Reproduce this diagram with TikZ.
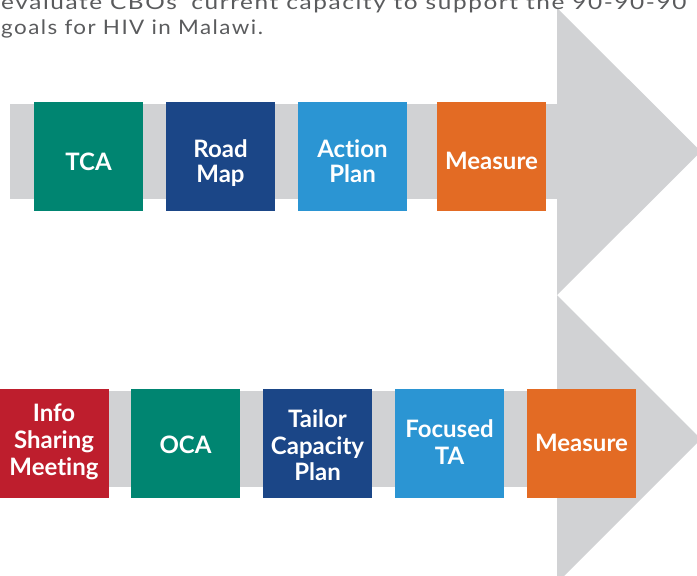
\documentclass[tikz,border=0pt]{standalone}
\usepackage{graphicx}
\usepackage{fontspec}
\setmainfont{Lato}
\definecolor{arrowgray}{HTML}{D1D2D4}
\definecolor{tealc}{HTML}{008571}
\definecolor{navyc}{HTML}{1B4687}
\definecolor{skyc}{HTML}{2B95D3}
\definecolor{orangec}{HTML}{E36B24}
\definecolor{redc}{HTML}{BE1E2D}
\definecolor{parac}{HTML}{5A5B5D}
\newcommand\parafont{\fontsize{20}{23}\selectfont\addfontfeature{LetterSpace=6.5}}
\newcommand\labelfont{\bfseries\addfontfeature{Ligatures=NoCommon}}
\newsavebox\lineonebox
\tikzset{
  stagebox/.style={rectangle, inner sep=0pt, minimum width=109pt, minimum height=109pt},
  stagelabel/.style={inner sep=0pt, anchor=base, text=white, align=center},
  toplabel/.style={stagelabel, font=\fontsize{24}{25}\selectfont\labelfont},
  botlabel/.style={stagelabel, font=\fontsize{24}{26.5}\selectfont\labelfont},
  paratext/.style={inner sep=0pt, anchor=base west, text=parac, font=\parafont}
}
\begin{document}
\begin{tikzpicture}[x=1pt,y=-1pt]
\useasboundingbox (0,0) rectangle (697,576);
\clip (0,0) rectangle (697,576);
% upper arrow
\fill[arrowgray] (10,104) rectangle (558,199);
\fill[arrowgray] (557,8) -- (701,151.5) -- (557,295) -- cycle;
% lower arrow
\fill[arrowgray] (0,391) rectangle (558,487);
\fill[arrowgray] (557,295) -- (701,439) -- (557,583) -- cycle;
% paragraph text
\node[paratext] (p1) at (1,9) {\sbox\lineonebox{evaluate CBOs’ current capacity to support the 90-90-90}\pgfmathsetmacro\lineonescale{685/\wd\lineonebox}\scalebox{\lineonescale}[1]{\usebox\lineonebox}};
\node[paratext] (p2) at (1,34.5) {\scalebox{1.12}[1]{goals for HIV in Malawi.}};
% upper row
\node[stagebox, fill=tealc] (tca) at (88.5,156.5) {};
\node[stagebox, fill=navyc] (road) at (220.5,156.5) {};
\node[stagebox, fill=skyc] (action) at (352.5,156.5) {};
\node[stagebox, fill=orangec] (meas1) at (491.5,156.5) {};
\node[toplabel] (tcaL) at (88.5,170) {TCA};
\node[toplabel] (roadL) at (220.5,182.3) {Road\\Map};
\node[toplabel] (actionL) at (352.5,182) {Action\\Plan};
\node[toplabel] (meas1L) at (491.5,169) {Measure};
% lower row
\node[stagebox, fill=redc] (info) at (54,443.5) {};
\node[stagebox, fill=tealc] (oca) at (185.5,443.5) {};
\node[stagebox, fill=navyc] (tailor) at (317.5,443.5) {};
\node[stagebox, fill=skyc] (focused) at (449.5,443.5) {};
\node[stagebox, fill=orangec] (meas2) at (581.5,443.5) {};
\node[botlabel, font=\fontsize{24}{27}\selectfont\labelfont] (infoL) at (54,475.7) {Info\\Sharing\\Meeting};
\node[botlabel] (ocaL) at (185.5,453) {OCA};
\node[botlabel] (tailorL) at (317.5,480.7) {Tailor\\Capacity\\Plan};
\node[botlabel] (focusedL) at (449.5,464) {Focused\\TA};
\node[botlabel] (meas2L) at (581.5,451.7) {Measure};
\end{tikzpicture}
\end{document}
